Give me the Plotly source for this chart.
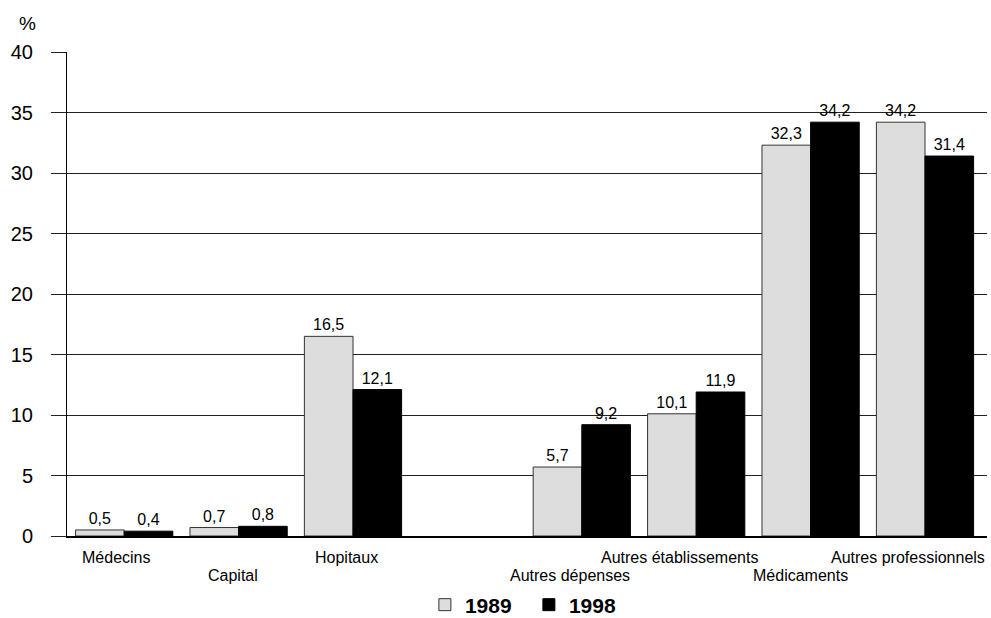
import plotly.graph_objects as go

# Share of spending by category, 1989 vs 1998 (%)
categories = ["Médecins", "Capital", "Hopitaux", " ", "Autres dépenses",
              "Autres établissements", "Médicaments", "Autres professionnels"]
values_1989 = [0.5, 0.7, 16.5, None, 5.7, 10.1, 32.3, 34.2]
values_1998 = [0.4, 0.8, 12.1, None, 9.2, 11.9, 34.2, 31.4]
y_ticks = [0, 5, 10, 15, 20, 25, 30, 35, 40]

# staggered category labels: row 0 = upper, row 1 = lower
label_row = [0, 1, 0, 1, 1, 0, 1, 0]
label_dx = [-8, -6, -7, 0, -12, -17, -10, -17]

FONT = "Liberation Sans, Arial, sans-serif"

fig = go.Figure()
fig.add_trace(go.Bar(
    x=categories, y=values_1989, name="1989",
    marker=dict(color="#DDDDDD", line=dict(color="#333333", width=1)),
    texttemplate="%{y:.1f}", textposition="outside", constraintext="none",
    textfont=dict(family=FONT, size=16, color="black"), cliponaxis=False,
))
fig.add_trace(go.Bar(
    x=categories, y=values_1998, name="1998",
    marker=dict(color="#000000", line=dict(color="#000000", width=1)),
    texttemplate="%{y:.1f}", textposition="outside", constraintext="none",
    textfont=dict(family=FONT, size=16, color="black"), cliponaxis=False,
))

annotations = []
for cat, row, dx in zip(categories, label_row, label_dx):
    if not cat.strip():
        continue
    annotations.append(dict(
        x=cat, y=0, xref="x", yref="y", text=cat, showarrow=False,
        xanchor="center", yanchor="middle", xshift=dx,
        yshift=-21 if row == 0 else -39,
        font=dict(family=FONT, size=16, color="black"),
    ))
annotations.append(dict(
    x=-0.043, y=1.058, xref="paper", yref="paper", text="%", showarrow=False,
    xanchor="center", yanchor="middle",
    font=dict(family=FONT, size=19, color="black"),
))

fig.update_layout(
    width=991, height=618,
    margin=dict(l=67, r=4, t=52, b=82, autoexpand=False),
    paper_bgcolor="white", plot_bgcolor="white",
    barmode="group", bargap=0.15, bargroupgap=0,
    separators=", ",
    font=dict(family=FONT, color="black"),
    showlegend=True,
    legend=dict(
        orientation="h", x=0.389, xanchor="left",
        y=-0.1426, yanchor="middle",
        font=dict(family=FONT, size=21, color="black", weight="bold"),
        itemwidth=30, traceorder="normal",
        entrywidth=59, entrywidthmode="pixels",
    ),
    annotations=annotations,
)
fig.update_xaxes(
    type="category", categoryorder="array", categoryarray=categories,
    showticklabels=False, ticks="", showgrid=False,
    showline=True, linecolor="black", linewidth=2,
)
fig.update_yaxes(
    range=[0, 40], tickvals=y_ticks, ticks="outside", ticklen=15,
    tickcolor="#222222", tickwidth=1,
    showgrid=True, gridcolor="#222222", gridwidth=1, zeroline=False,
    showline=True, linecolor="black", linewidth=1,
    tickfont=dict(family=FONT, size=20, color="black"),
    ticklabelstandoff=14,
)

fig.write_html("out.html")
